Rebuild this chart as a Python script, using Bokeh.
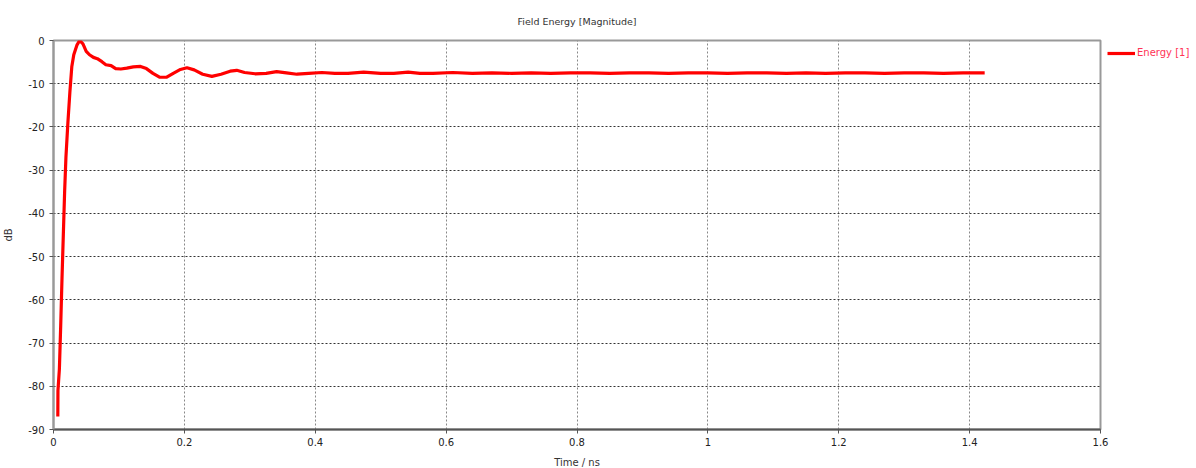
from bokeh.plotting import figure
from bokeh.models import Legend, LegendItem, FixedTicker, Range1d
from bokeh.embed import file_html
from bokeh.resources import INLINE

# Data (time in ns, field energy in dB)
time_ns = [0.0066, 0.0068, 0.009, 0.011, 0.013, 0.015, 0.017, 0.019, 0.022, 0.025,
           0.028, 0.031, 0.036, 0.040, 0.045, 0.050, 0.055, 0.061, 0.067, 0.074,
           0.080, 0.088, 0.095, 0.103, 0.112, 0.122, 0.133, 0.142, 0.152, 0.162,
           0.173, 0.183, 0.194, 0.204, 0.215, 0.228, 0.242, 0.256, 0.270, 0.280,
           0.292, 0.308, 0.325, 0.341, 0.356, 0.372, 0.390, 0.410, 0.430, 0.450,
           0.474, 0.500, 0.520, 0.542, 0.560, 0.580, 0.610, 0.640, 0.670, 0.700,
           0.730, 0.760, 0.790, 0.820, 0.850, 0.880, 0.910, 0.940, 0.970, 1.000,
           1.030, 1.060, 1.090, 1.120, 1.150, 1.180, 1.210, 1.240, 1.270, 1.300,
           1.330, 1.360, 1.390, 1.423]
energy_db = [-87.0, -81.0, -76.0, -66.0, -55.0, -45.0, -35.0, -27.0, -19.0, -12.0,
             -6.0, -3.3, -1.0, 0.0, -0.8, -2.5, -3.3, -3.9, -4.2, -4.9,
             -5.6, -5.8, -6.5, -6.6, -6.4, -6.1, -6.0, -6.5, -7.6, -8.5,
             -8.5, -7.6, -6.7, -6.3, -6.8, -7.8, -8.3, -7.8, -7.1, -6.9,
             -7.4, -7.7, -7.6, -7.2, -7.5, -7.8, -7.6, -7.4, -7.6, -7.6,
             -7.3, -7.6, -7.6, -7.3, -7.6, -7.6, -7.4, -7.6, -7.5, -7.6,
             -7.5, -7.6, -7.5, -7.5, -7.6, -7.5, -7.5, -7.6, -7.5, -7.5,
             -7.6, -7.5, -7.5, -7.6, -7.5, -7.6, -7.5, -7.5, -7.6, -7.5,
             -7.5, -7.6, -7.5, -7.5]
x_ticks = [0, 0.2, 0.4, 0.6, 0.8, 1.0, 1.2, 1.4, 1.6]
x_tick_labels = ["0", "0.2", "0.4", "0.6", "0.8", "1", "1.2", "1.4", "1.6"]
y_ticks = [-90, -80, -70, -60, -50, -40, -30, -20, -10, 0]
y_tick_labels = ["-90", "-80", "-70", "-60", "-50", "-40", "-30", "-20", "-10", "0"]
series_name = "Energy [1]"

FONT = "DejaVu Sans"

p = figure(frame_width=1047, frame_height=389, output_backend="svg", toolbar_location=None,
           x_range=Range1d(0, 1.6), y_range=Range1d(-90, 0),
           title="Field Energy [Magnitude]",
           x_axis_label="Time / ns", y_axis_label="dB",
           min_border_left=45, min_border_right=0, min_border_top=10,
           min_border_bottom=39)

p.title.align = "center"
p.title.text_font = FONT
p.title.text_font_size = "9.5px"
p.title.text_font_style = "normal"
p.title.text_color = "#333333"
p.title.offset = 0
p.title.standoff = 27

p.outline_line_color = "#999999"
p.outline_line_width = 2
p.background_fill_color = "white"
p.border_fill_color = "white"

for ax in (p.xaxis[0], p.yaxis[0]):
    ax.axis_label_text_font = FONT
    ax.axis_label_text_font_size = "10px"
    ax.axis_label_text_font_style = "normal"
    ax.axis_label_text_color = "#333333"
    ax.major_label_text_font = FONT
    ax.major_label_text_font_size = "10px"
    ax.major_label_text_color = "#222222"
    ax.major_tick_out = 4
    ax.major_tick_in = 0
    ax.minor_tick_out = 0
    ax.minor_tick_in = 0
    ax.major_tick_line_color = "#555555"
    ax.major_label_standoff = 4

p.yaxis[0].major_label_standoff = 5
p.xaxis[0].axis_label_standoff = 8
p.yaxis[0].axis_label_standoff = 11
p.xaxis[0].ticker = FixedTicker(ticks=x_ticks)
p.yaxis[0].ticker = FixedTicker(ticks=y_ticks)
p.xaxis[0].major_label_overrides = dict(zip(x_ticks, x_tick_labels))
p.yaxis[0].major_label_overrides = dict(zip(y_ticks, y_tick_labels))
p.xaxis[0].axis_line_color = "#555555"
p.xaxis[0].axis_line_width = 2
p.yaxis[0].axis_line_color = "#999999"
p.yaxis[0].axis_line_width = 2

p.xgrid.grid_line_color = "#888888"
p.xgrid.grid_line_dash = "2 2"
p.xgrid.grid_line_width = 1
p.ygrid.grid_line_color = "#333333"
p.ygrid.grid_line_dash = "2 2"
p.ygrid.grid_line_width = 1

r = p.line(time_ns, energy_db, line_color="#ff0000", line_width=3.2, line_join="round")

legend = Legend(items=[LegendItem(label=series_name, renderers=[r])],
                location="top_left", padding=7, margin=0, spacing=0,
                glyph_width=28, glyph_height=6, label_height=6, label_standoff=2,
                label_text_font=FONT, label_text_font_size="10px",
                label_text_color="#ff3355", label_text_baseline="middle",
                background_fill_alpha=0, border_line_alpha=0)
p.add_layout(legend, "right")

open("out.html", "w").write(file_html(p, INLINE))
